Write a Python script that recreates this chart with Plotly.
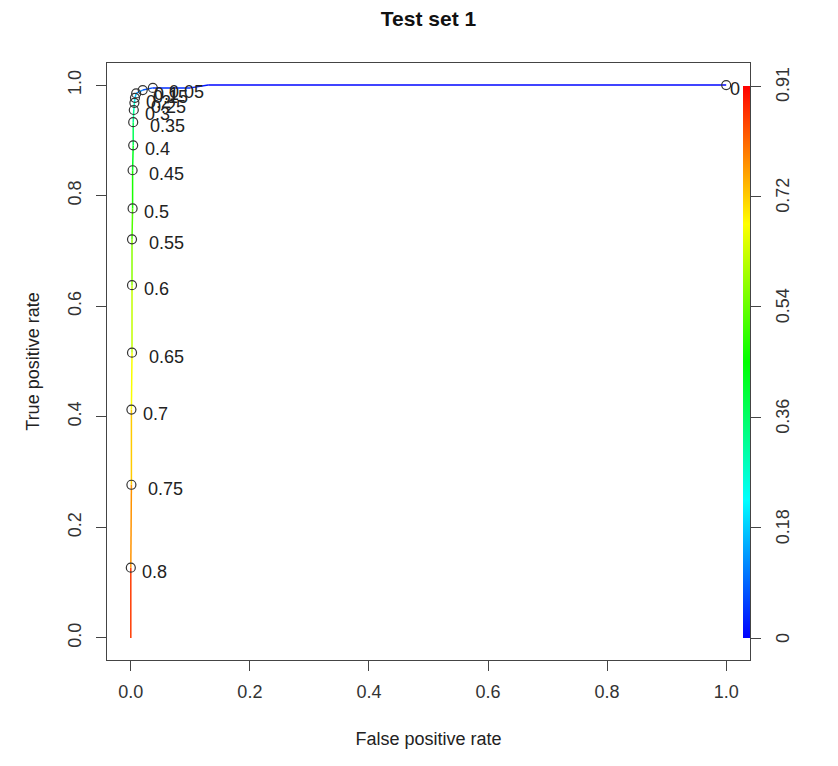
import plotly.graph_objects as go
from plotly.colors import sample_colorscale

# ROC curve points (cutoff, false positive rate, true positive rate)
cutoffs = [0.9055, 0.8, 0.75, 0.7, 0.65, 0.6, 0.55, 0.5, 0.45, 0.4, 0.35,
           0.3, 0.25, 0.2, 0.15, 0.1, 0.05, 0.03, 0.01, 0.0]
fpr = [0.0, 0.0, 0.001, 0.001, 0.002, 0.002, 0.002, 0.003, 0.003, 0.004, 0.004,
       0.005, 0.006, 0.007, 0.009, 0.020, 0.037, 0.10, 0.13, 1.0]
tpr = [0.0, 0.127, 0.277, 0.413, 0.516, 0.638, 0.721, 0.777, 0.846, 0.891, 0.933,
       0.955, 0.968, 0.977, 0.985, 0.991, 0.995, 0.995, 1.0, 1.0]

# labelled cutoffs
label_cuts = [0.0, 0.05, 0.1, 0.15, 0.2, 0.25, 0.3, 0.35, 0.4, 0.45, 0.5,
              0.55, 0.6, 0.65, 0.7, 0.75, 0.8]
label_text = ["0", "0.05", "0.1", "0.15", "0.2", "0.25", "0.3", "0.35", "0.4",
              "0.45", "0.5", "0.55", "0.6", "0.65", "0.7", "0.75", "0.8"]

cbar_max = 0.9055
cbar_tickvals = [0, 0.1811, 0.3622, 0.5433, 0.7244, 0.9055]
cbar_ticktext = ["0", "0.18", "0.36", "0.54", "0.72", "0.91"]

x_ticks = [0.0, 0.2, 0.4, 0.6, 0.8, 1.0]
x_ticktext = ["0.0", "0.2", "0.4", "0.6", "0.8", "1.0"]
y_ticks = [0.0, 0.2, 0.4, 0.6, 0.8, 1.0]
y_ticktext = ["0.0", "0.2", "0.4", "0.6", "0.8", "1.0"]

rainbow = [[0.0, "#0000FF"], [0.25, "#00FFFF"], [0.5, "#00FF00"],
           [0.75, "#FFFF00"], [1.0, "#FF0000"]]

FONT = "Liberation Sans, Arial, sans-serif"
W, H = 838, 766
ML, MR, MT, MB = 99, 96, 55, 114   # page has an 8px body offset
PW = W - ML - MR
PH = H - MT - MB

fig = go.Figure()

# colored line segments
for i in range(len(cutoffs) - 1):
    c = (cutoffs[i] + cutoffs[i + 1]) / 2 / cbar_max
    c = min(max(c, 0), 1)
    col = sample_colorscale(rainbow, [c])[0]
    fig.add_trace(go.Scatter(x=[fpr[i], fpr[i + 1]], y=[tpr[i], tpr[i + 1]],
                             mode="lines", line=dict(color=col, width=1.5),
                             showlegend=False, hoverinfo="skip"))

# labelled points
lx, ly = [], []
for lc in label_cuts:
    j = min(range(len(cutoffs)), key=lambda k: abs(cutoffs[k] - lc))
    lx.append(fpr[j]); ly.append(tpr[j])

fig.add_trace(go.Scatter(x=lx, y=ly, mode="markers",
                         marker=dict(symbol="circle-open", size=9,
                                     color="#333333", line=dict(width=1.2)),
                         showlegend=False))

def text_width(s, size=18):
    w = 0
    for ch in s:
        w += 0.278 if ch == "." else 0.556
    return w * size

for x, y, t in zip(lx, ly, label_text):
    fig.add_annotation(x=x, y=y, text=t, showarrow=False, xanchor="left",
                       yanchor="middle", xshift=0.5 * text_width(t) - 3, yshift=-4,
                       font=dict(size=18, color="#222222", family=FONT))

# colorbar (bar + ticks); its labels are placed as rotated annotations
fig.add_trace(go.Scatter(x=[None], y=[None], mode="markers", showlegend=False,
                         marker=dict(color=[0], colorscale=rainbow, cmin=0,
                                     cmax=cbar_max, showscale=True,
                                     colorbar=dict(
                                         lenmode="pixels", len=552,
                                         thickness=7, x=(735 - ML) / PW,
                                         xanchor="left", xpad=0, ypad=0,
                                         y=(H - MB - 354) / PH, yanchor="middle",
                                         outlinewidth=0, ticks="outside",
                                         ticklen=11, tickwidth=1, tickcolor="#444444",
                                         tickvals=cbar_tickvals,
                                         showticklabels=False))))

for v, t in zip(cbar_tickvals, cbar_ticktext):
    fig.add_annotation(x=(775 - ML) / PW, xref="paper", y=v / cbar_max, yref="y",
                       text=t, showarrow=False, textangle=-90,
                       xanchor="center", yanchor="middle",
                       font=dict(size=18, color="#333333", family=FONT))

axis_common = dict(showgrid=False, zeroline=False, showline=True, mirror=True,
                   linecolor="#444444", linewidth=1.2, ticks="outside",
                   ticklen=10, tickwidth=1, tickcolor="#444444",
                   tickfont=dict(size=18, color="#333333", family=FONT))

fig.update_layout(
    width=W, height=H,
    margin=dict(l=ML, r=MR, t=MT, b=MB),
    paper_bgcolor="white", plot_bgcolor="white",
    title=dict(text="<b>Test set 1</b>", x=(ML + PW / 2) / W, xanchor="center",
               y=1 - 11 / H, yanchor="middle",
               font=dict(size=21, color="#111111", family=FONT)),
    xaxis=dict(range=[-0.04, 1.04], tickvals=x_ticks, ticktext=x_ticktext,
               ticklabelstandoff=5,
               title=dict(text="False positive rate", standoff=31,
                          font=dict(size=18, color="#222222", family=FONT)),
               **axis_common),
    yaxis=dict(range=[-0.04, 1.04], tickvals=y_ticks, ticktext=y_ticktext,
               tickangle=-90, ticklabelstandoff=8,
               title=dict(text="True positive rate", standoff=20,
                          font=dict(size=18, color="#222222", family=FONT)),
               **axis_common),
)

fig.write_html("out.html")
